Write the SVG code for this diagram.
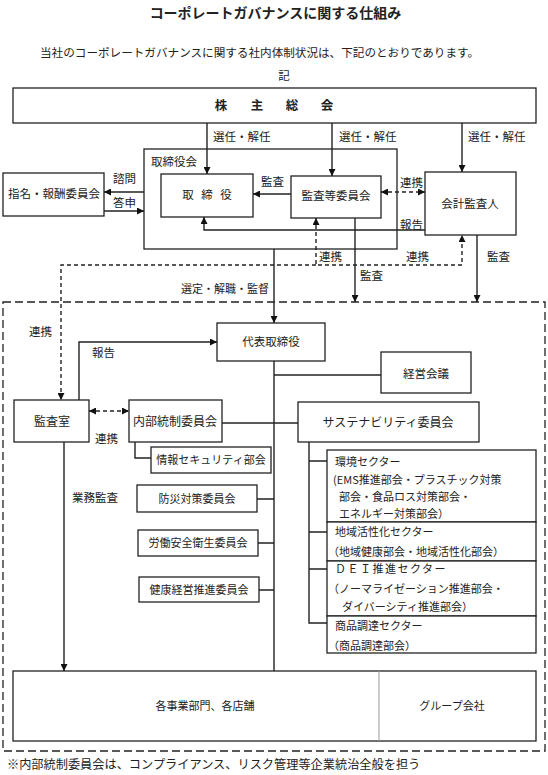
<svg xmlns="http://www.w3.org/2000/svg" width="548" height="775" viewBox="0 0 548 775">
<defs>
<style>
.t{font-family:"Noto Sans CJK JP","Noto Sans",sans-serif;font-size:11.5px;fill:#222}
.s{font-size:11px}
.m{text-anchor:middle}
.b{fill:#fff;stroke:#222;stroke-width:1.3}
.c{fill:none;stroke:#222;stroke-width:1.4}
.d{fill:none;stroke:#222;stroke-width:1.4;stroke-dasharray:4 3}
.o{fill:none;stroke:#222;stroke-width:1.3;stroke-dasharray:8 4}
</style>
<marker id="ah" viewBox="0 0 10 10" refX="10" refY="5" markerWidth="7" markerHeight="7" markerUnits="userSpaceOnUse" orient="auto-start-reverse"><path d="M0,0 L10,5 L0,10 z" fill="#111"/></marker>
</defs>
<rect width="548" height="775" fill="#fff"/>

<text class="t m" x="275.5" y="18" style="font-size:14px;font-weight:bold">コーポレートガバナンスに関する仕組み</text>
<text class="t" x="40" y="57" style="font-size:11.6px">当社のコーポレートガバナンスに関する社内体制状況は、下記のとおりであります。</text>
<text class="t m" x="284" y="80">記</text>

<rect class="o" x="3" y="302" width="542" height="449"/>

<g id="kabunushi"><rect class="b" x="13" y="88" width="523" height="35"/><text class="t m" x="221 257 292 327" y="110" style="font-weight:bold;font-size:12.5px">株主総会</text></g>
<g id="torishimariyakukai"><rect class="b" x="144" y="149" width="253" height="100"/><text class="t" x="151" y="166">取締役会</text></g>
<g id="torishimariyaku"><rect class="b" x="161" y="174" width="92" height="43"/><text class="t m" x="188 207 226" y="199">取締役</text></g>
<g id="kansatou"><rect class="b" x="291" y="176" width="90" height="42"/><text class="t m" x="336" y="200">監査等委員会</text></g>
<g id="shimei"><rect class="b" x="3" y="173" width="101" height="43"/><text class="t m" x="54" y="198">指名・報酬委員会</text></g>
<g id="kaikei"><rect class="b" x="425" y="172" width="91" height="63"/><text class="t m" x="470" y="208">会計監査人</text></g>
<g id="daihyou"><rect class="b" x="217" y="323" width="108" height="38"/><text class="t m" x="271" y="346">代表取締役</text></g>
<g id="keiei"><rect class="b" x="381" y="352" width="90" height="41"/><text class="t m" x="426" y="378">経営会議</text></g>
<g id="kansashitsu"><rect class="b" x="14" y="400" width="75" height="42"/><text class="t m" x="52" y="426" style="font-size:12px">監査室</text></g>
<g id="naibu"><rect class="b" x="129" y="400" width="93" height="42"/><text class="t m" x="175" y="426" style="font-size:12px">内部統制委員会</text></g>
<g id="sustain"><rect class="b" x="298" y="402" width="181" height="40"/><text class="t m" x="388" y="427" style="font-size:12px">サステナビリティ委員会</text></g>
<g id="joho"><rect class="b" x="151" y="447" width="120" height="26"/><text class="t m s" x="211" y="464">情報セキュリティ部会</text></g>
<g id="bousai"><rect class="b" x="137" y="485" width="120" height="27"/><text class="t m s" x="197" y="503">防災対策委員会</text></g>
<g id="roudou"><rect class="b" x="138" y="530" width="120" height="26"/><text class="t m s" x="198" y="547">労働安全衛生委員会</text></g>
<g id="kenkou"><rect class="b" x="139" y="577" width="120" height="25"/><text class="t m s" x="199" y="594">健康経営推進委員会</text></g>
<g id="kankyo"><rect class="b" x="327" y="450" width="209" height="72"/>
<text class="t s" x="335" y="466">環境セクター</text>
<text class="t s" x="333" y="484">(EMS推進部会・プラスチック対策</text>
<text class="t s" x="339" y="501">部会・食品ロス対策部会・</text>
<text class="t s" x="339" y="518">エネルギー対策部会）</text></g>
<g id="chiiki"><rect class="b" x="327" y="522" width="209" height="39"/>
<text class="t s" x="335" y="536">地域活性化セクター</text>
<text class="t s" x="328" y="556">（地域健康部会・地域活性化部会）</text></g>
<g id="dei"><rect class="b" x="327" y="561" width="209" height="55"/>
<text class="t s" x="335" y="573" letter-spacing="1.5">ＤＥＩ推進セクター</text>
<text class="t s" x="328" y="593">（ノーマライゼーション推進部会・</text>
<text class="t s" x="342" y="611">ダイバーシティ推進部会）</text></g>
<g id="shohin"><rect class="b" x="327" y="616" width="209" height="37"/>
<text class="t s" x="335" y="630">商品調達セクター</text>
<text class="t s" x="328" y="650">（商品調達部会）</text></g>
<g id="jigyo"><rect class="b" x="13" y="671" width="523" height="70"/><line x1="379" y1="671" x2="379" y2="741" stroke="#999" stroke-width="1"/>
<text class="t m s" x="205" y="710">各事業部門、各店舗</text>
<text class="t m s" x="452" y="710">グループ会社</text></g>

<g id="connectors">
<path class="c" d="M207,123 V174" marker-end="url(#ah)"/>
<path class="c" d="M332,123 V176" marker-end="url(#ah)"/>
<path class="c" d="M462,123 V172" marker-end="url(#ah)"/>
<path class="c" d="M291,194 H253" marker-end="url(#ah)"/>
<path class="c" d="M144,192 H104" marker-end="url(#ah)"/>
<path class="c" d="M104,211 H144" marker-end="url(#ah)"/>
<path class="d" d="M381,192 H425" marker-start="url(#ah)" marker-end="url(#ah)"/>
<path class="c" d="M425,230 H204 V217" marker-end="url(#ah)"/>
<path class="d" d="M316,218 V265 H462 V235" marker-start="url(#ah)" marker-end="url(#ah)"/>
<path class="d" d="M316,265 H61 V400" marker-end="url(#ah)"/>
<path class="c" d="M355,218 V302" marker-end="url(#ah)"/>
<path class="c" d="M477,235 V302" marker-end="url(#ah)"/>
<path class="c" d="M274,249 V323" marker-end="url(#ah)"/>
<path class="c" d="M79,400 V342 H217" marker-end="url(#ah)"/>
<path class="d" d="M89,411 H129" marker-start="url(#ah)" marker-end="url(#ah)"/>
<path class="c" d="M64,442 V671" marker-end="url(#ah)"/>
<path class="c" d="M274,361 V671"/>
<path class="c" d="M274,375 H381"/>
<path class="c" d="M222,423 H298"/>
<path class="c" d="M135,442 V458 H151"/>
<path class="c" d="M257,499 H274 M258,543 H274 M259,590 H274"/>
<path class="c" d="M309,442 V623 H327 M309,461 H327 M309,532 H327 M309,569 H327"/>
</g>

<g id="labels">
<text class="t" x="213" y="141">選任・解任</text>
<text class="t" x="339" y="141">選任・解任</text>
<text class="t" x="468" y="141">選任・解任</text>
<text class="t" x="113" y="183">諮問</text>
<text class="t" x="113" y="207">答申</text>
<text class="t" x="261" y="186">監査</text>
<text class="t" x="400" y="187">連携</text>
<text class="t" x="400" y="229">報告</text>
<text class="t" x="319" y="261">連携</text>
<text class="t" x="406" y="261">連携</text>
<text class="t" x="487" y="261">監査</text>
<text class="t" x="360" y="280">監査</text>
<text class="t s" x="269" y="293" style="text-anchor:end">選定・解職・監督</text>
<text class="t" x="29" y="336">連携</text>
<text class="t" x="92" y="357">報告</text>
<text class="t" x="95" y="443">連携</text>
<text class="t" x="72" y="502">業務監査</text>
</g>

<text class="t" x="7" y="769" style="font-size:12.2px">※内部統制委員会は、コンプライアンス、リスク管理等企業統治全般を担う</text>
</svg>
